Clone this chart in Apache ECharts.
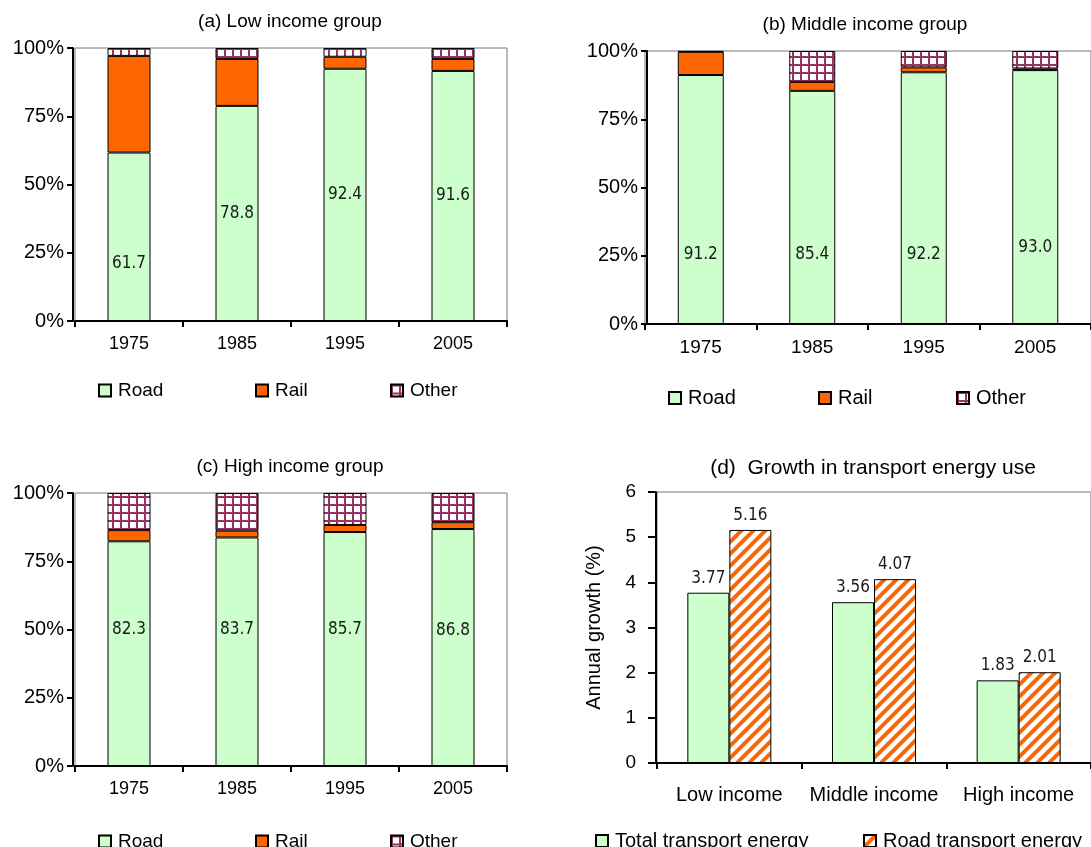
<!DOCTYPE html>
<html>
<head>
<meta charset="utf-8">
<script src="https://cdn.jsdelivr.net/npm/echarts@6/dist/echarts.min.js"></script>
<style>html,body{margin:0;padding:0;background:#fff}#c{width:1091px;height:847px}</style>
</head>
<body>
<div id="c"></div>
<script>
// ---- data ----
const years = ['1975', '1985', '1995', '2005'];
const lowRoad = [61.7, 78.8, 92.4, 91.6];
const lowRail = [35.4, 17.2, 4.4, 4.4];
const lowOther = [2.9, 4.0, 3.2, 4.0];
const midRoad = [91.2, 85.4, 92.2, 93.0];
const midRail = [8.5, 3.3, 1.8, 0.6];
const midOther = [0.3, 11.3, 6.0, 6.4];
const highRoad = [82.3, 83.7, 85.7, 86.8];
const highRail = [4.1, 2.5, 2.6, 2.5];
const highOther = [13.6, 13.8, 11.7, 10.7];
const groups = ['Low income', 'Middle income', 'High income'];
const totalGrowth = [3.77, 3.56, 1.83];
const roadGrowth = [5.16, 4.07, 2.01];

// ---- layout / style (not data) ----
const FONT = "'Liberation Sans', Arial, sans-serif";
const NARROW = "'DejaVu Sans Condensed', 'Liberation Sans Narrow', sans-serif";
const labelOffsets = [[27, 0, 0, 0], [55, 47, 56, 51], [-24, -22, -19, -17]];

function gridPattern() {
  const c = document.createElement('canvas');
  c.width = 8; c.height = 8;
  const g = c.getContext('2d');
  g.fillStyle = '#ffffff'; g.fillRect(0, 0, 8, 8);
  g.fillStyle = '#993366';
  g.fillRect(0, 0, 2, 8);
  g.fillRect(0, 0, 8, 2);
  return { image: c, repeat: 'repeat' };
}
function stripePattern() {
  const s = 12;
  const c = document.createElement('canvas');
  c.width = s; c.height = s;
  const g = c.getContext('2d');
  g.fillStyle = '#ffffff'; g.fillRect(0, 0, s, s);
  g.strokeStyle = '#ff6600'; g.lineWidth = 4;
  g.beginPath();
  g.moveTo(-2, s + 2); g.lineTo(s + 2, -2);
  g.moveTo(-s / 2 - 2, s / 2 + 2); g.lineTo(s / 2 + 2, -s / 2 - 2);
  g.moveTo(s / 2 - 2, s * 1.5 + 2); g.lineTo(s * 1.5 + 2, s / 2 - 2);
  g.stroke();
  return { image: c, repeat: 'repeat' };
}
const OTHER = gridPattern();
const STRIPE = stripePattern();

const grids = [
  { left: 75, top: 48, width: 432, height: 273 },
  { left: 645, top: 51, width: 455, height: 273 },
  { left: 75, top: 493, width: 432, height: 273 },
  { left: 657, top: 492, width: 445, height: 271 }
].map(g => Object.assign(g, { show: true, borderColor: '#777', borderWidth: 1, containLabel: false }));

function xAx(i, data, fs, margin) {
  return {
    type: 'category', gridIndex: i, data: data,
    axisLine: { lineStyle: { color: '#000', width: 2 } },
    axisTick: { show: true, length: 6, lineStyle: { color: '#000', width: 2 } },
    axisLabel: { color: '#000', fontSize: fs, fontFamily: FONT, margin: margin, interval: 0, hideOverlap: false }
  };
}
function yAxPct(i, off) {
  return {
    type: 'value', gridIndex: i, min: 0, max: 100, interval: 25, offset: off,
    axisLine: { show: true, lineStyle: { color: '#000', width: 2 } },
    axisTick: { show: true, length: 6, lineStyle: { color: '#000', width: 2 } },
    axisLabel: { color: '#000', fontSize: 20, fontFamily: FONT, margin: 9, formatter: '{value}%' },
    splitLine: { show: false }
  };
}

const allSeries = [];
const panels = [[lowRoad, lowRail, lowOther], [midRoad, midRail, midOther], [highRoad, highRail, highOther]];
const barWidths = [43, 46, 43];
panels.forEach((p, i) => {
  const st = 'st' + i;
  allSeries.push({
    name: 'Road', type: 'bar', stack: st, xAxisIndex: i, yAxisIndex: i, barWidth: barWidths[i],
    data: p[0].map((v, k) => ({ value: v, label: { offset: [0, labelOffsets[i][k]] } })),
    itemStyle: { color: '#ccffcc', borderColor: '#000', borderWidth: 1 },
    label: { show: true, position: 'inside', color: '#1a1a1a', fontSize: 17, fontFamily: NARROW, formatter: d => d.value.toFixed(1) },
    emphasis: { disabled: true }
  });
  allSeries.push({
    name: 'Rail', type: 'bar', stack: st, xAxisIndex: i, yAxisIndex: i, barWidth: barWidths[i],
    data: p[1], itemStyle: { color: '#ff6600', borderColor: '#000', borderWidth: 1 }, emphasis: { disabled: true }
  });
  allSeries.push({
    name: 'Other', type: 'bar', stack: st, xAxisIndex: i, yAxisIndex: i, barWidth: barWidths[i],
    data: p[2], itemStyle: { color: OTHER, borderColor: '#000', borderWidth: 1 }, emphasis: { disabled: true }
  });
});

const growthLabel = { show: true, position: 'top', color: '#1a1a1a', fontSize: 17, fontFamily: NARROW, distance: 6, formatter: d => d.value.toFixed(2) };
allSeries.push({
  name: 'Total transport energy', type: 'bar', xAxisIndex: 3, yAxisIndex: 3, barWidth: 42, barGap: '0%',
  data: totalGrowth, itemStyle: { color: '#ccffcc', borderColor: '#000', borderWidth: 1 }, label: growthLabel, emphasis: { disabled: true }
});
allSeries.push({
  name: 'Road transport energy', type: 'bar', xAxisIndex: 3, yAxisIndex: 3, barWidth: 42, barGap: '0%',
  data: roadGrowth, itemStyle: { color: STRIPE, borderColor: '#000', borderWidth: 1 }, label: growthLabel, emphasis: { disabled: true }
});

function leg(left, top, name, fs) {
  return {
    left: left, top: top, data: [name], itemWidth: 12, itemHeight: 12, icon: 'rect',
    textStyle: { color: '#000', fontSize: fs, fontFamily: FONT, padding: [0, 0, 0, 2] }, selectedMode: false
  };
}

const titles = [
  ['(a) Low income group', 290, 22, 19],
  ['(b) Middle income group', 865, 25, 19],
  ['(c) High income group', 290, 467, 19],
  ['(d)  Growth in transport energy use', 873, 468, 21]
];

const option = {
  animation: false,
  backgroundColor: '#fff',
  grid: grids,
  xAxis: [xAx(0, years, 18, 14), xAx(1, years, 19, 14), xAx(2, years, 18, 14), xAx(3, groups, 20, 22)],
  yAxis: [yAxPct(0, 2), yAxPct(1, -2), yAxPct(2, 2), {
    type: 'value', gridIndex: 3, min: 0, max: 6, interval: 1, offset: 1,
    name: 'Annual growth (%)', nameLocation: 'middle', nameRotate: 90, nameGap: 52,
    nameTextStyle: { color: '#000', fontSize: 20, fontFamily: FONT },
    axisLine: { show: true, lineStyle: { color: '#000', width: 2 } },
    axisTick: { show: true, length: 8, lineStyle: { color: '#000', width: 2 } },
    axisLabel: { color: '#000', fontSize: 19, fontFamily: FONT, margin: 20 },
    splitLine: { show: false }
  }],
  legend: [
    leg(93, 376, 'Road', 19), leg(250, 376, 'Rail', 19), leg(385, 376, 'Other', 19),
    leg(663, 383, 'Road', 20), leg(813, 383, 'Rail', 20), leg(951, 383, 'Other', 20),
    leg(93, 827, 'Road', 19), leg(250, 827, 'Rail', 19), leg(385, 827, 'Other', 19),
    leg(590, 826, 'Total transport energy', 20), leg(858, 826, 'Road transport energy', 20)
  ],
  graphic: titles.map(t => ({
    type: 'text', x: t[1], y: t[2],
    style: { text: t[0], fill: '#000', font: t[3] + 'px ' + FONT, textAlign: 'center', textVerticalAlign: 'middle' }
  })),
  series: allSeries
};

const chart = echarts.init(document.getElementById('c'), null, { renderer: 'canvas' });
chart.setOption(option);
</script>
</body>
</html>
